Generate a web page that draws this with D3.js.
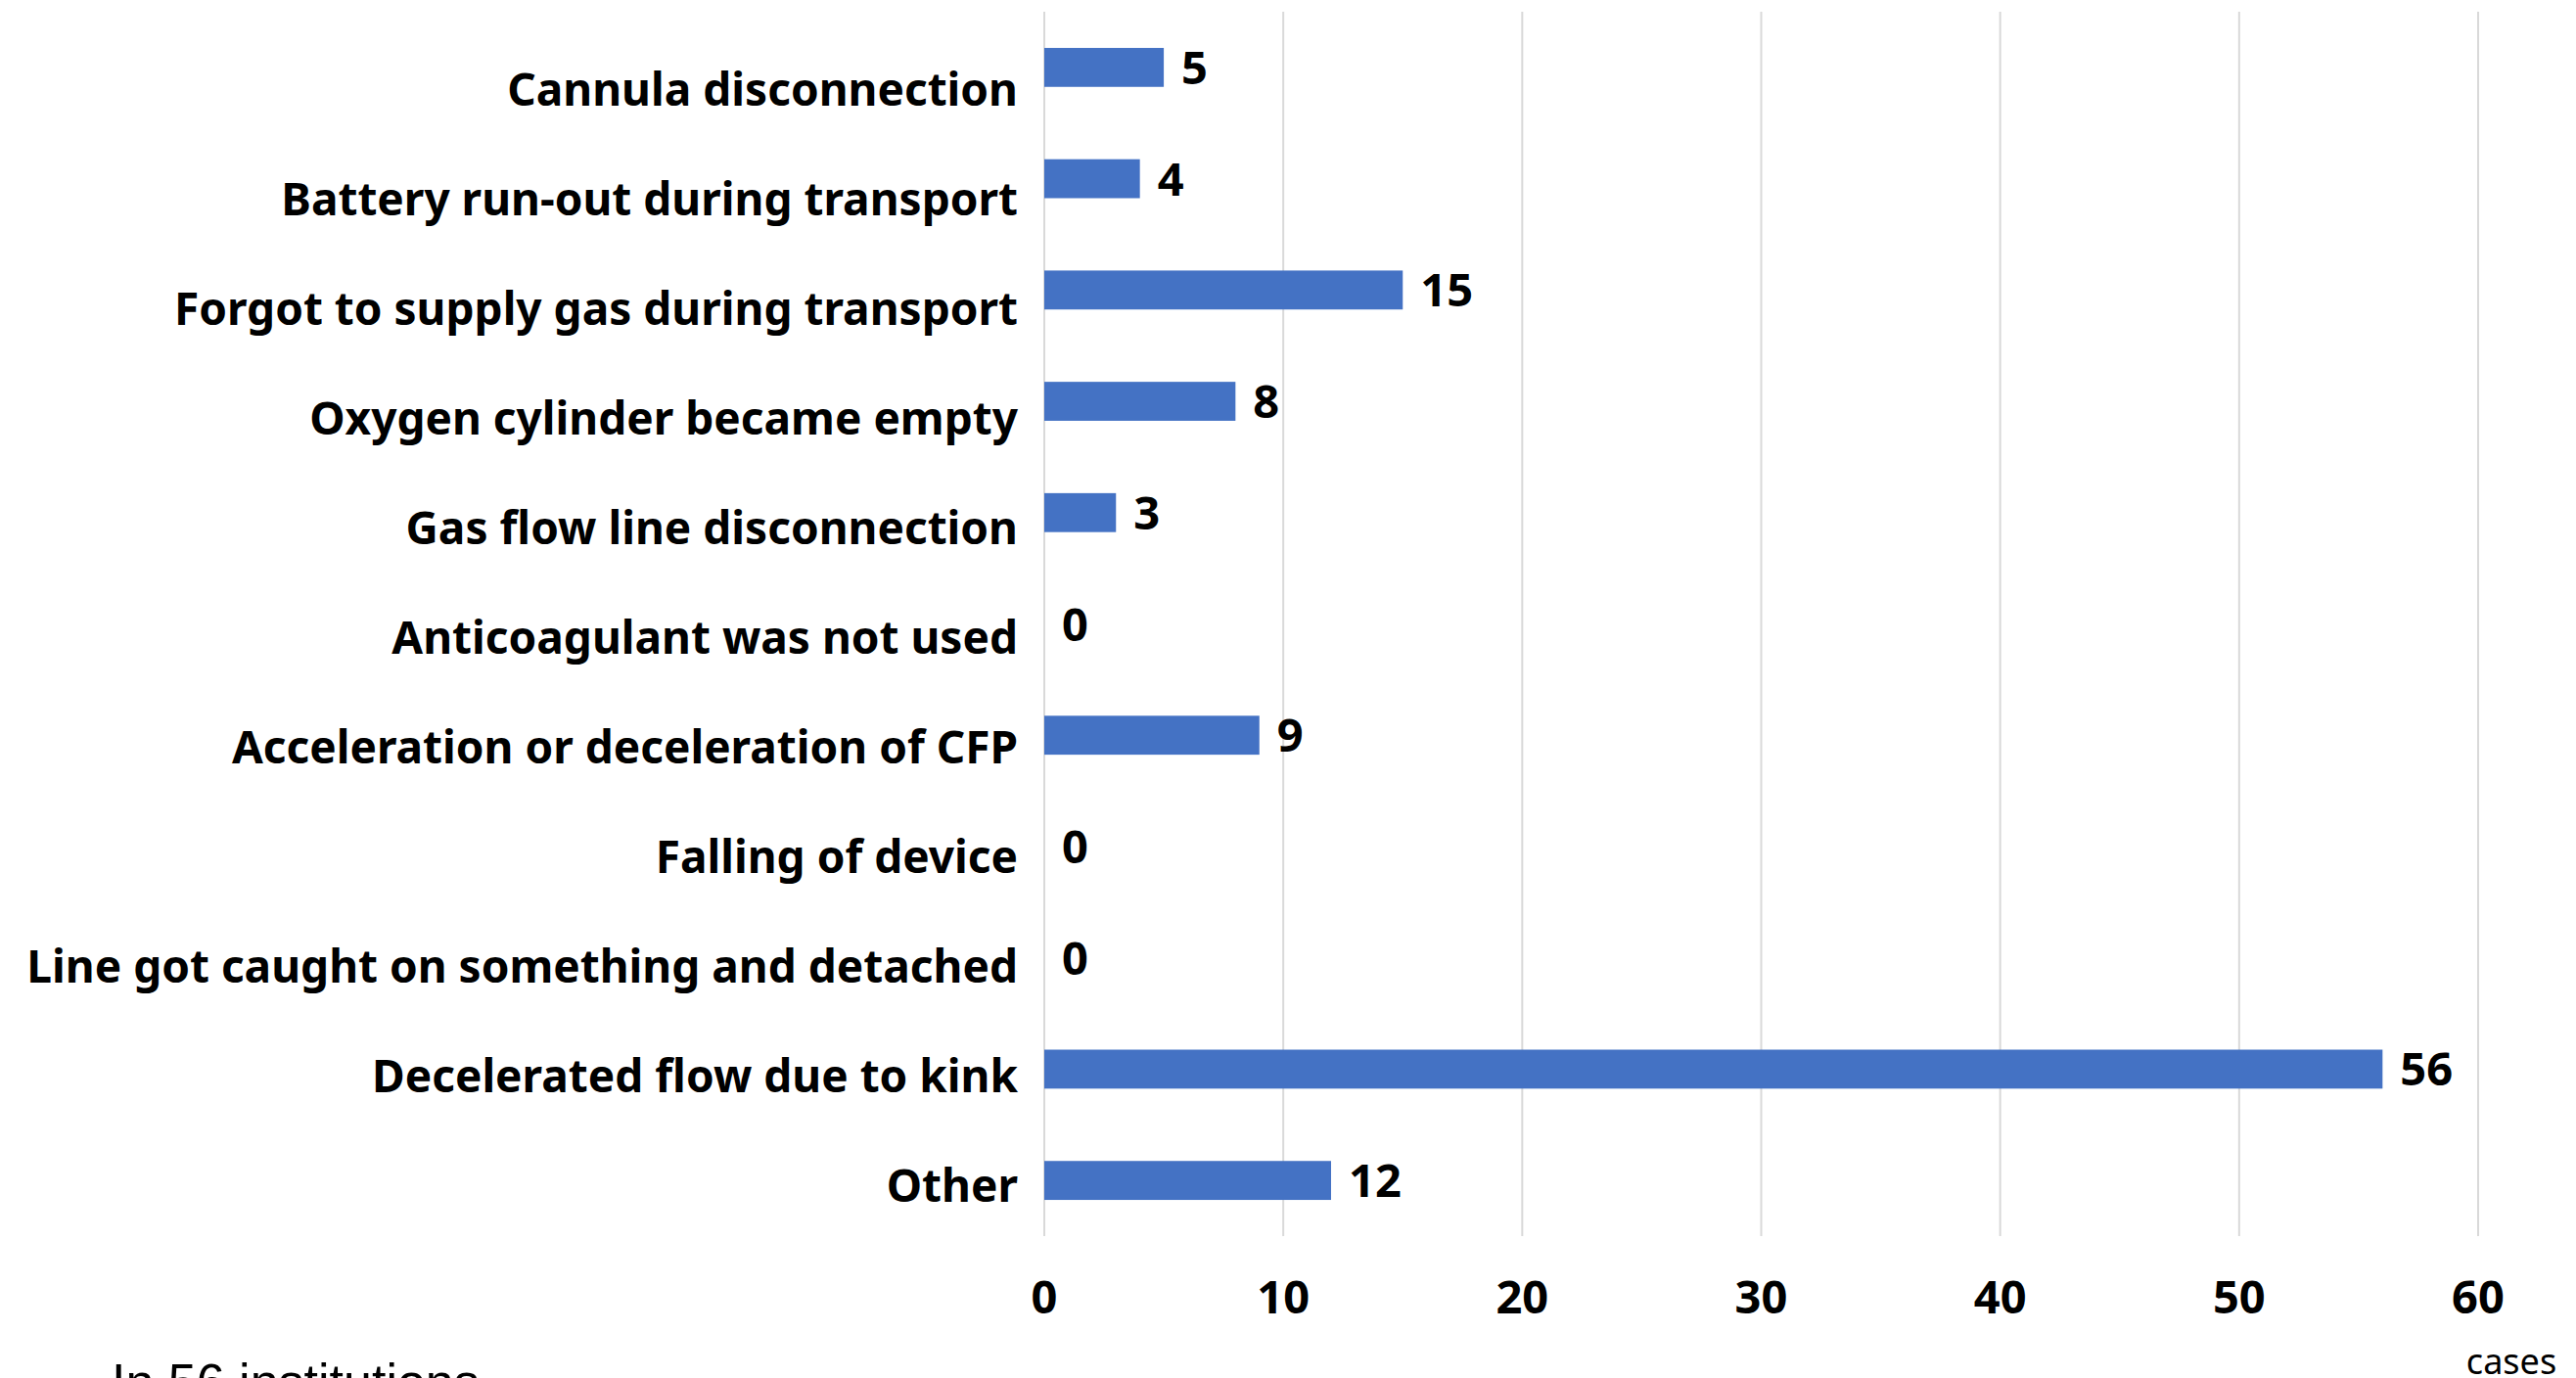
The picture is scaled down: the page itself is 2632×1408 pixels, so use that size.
<!DOCTYPE html>
<html>
<head>
<meta charset="utf-8">
<script src="https://cdn.jsdelivr.net/npm/d3@7"></script>
<style>
  html, body { margin: 0; padding: 0; background: #ffffff; }
  svg { display: block; }
</style>
</head>
<body>
<script>
const categories = [
  "Cannula disconnection",
  "Battery run-out during transport",
  "Forgot to supply gas during transport",
  "Oxygen cylinder became empty",
  "Gas flow line disconnection",
  "Anticoagulant was not used",
  "Acceleration or deceleration of CFP",
  "Falling of device",
  "Line got caught on something and detached",
  "Decelerated flow due to kink",
  "Other"
];
const values = [5, 4, 15, 8, 3, 0, 9, 0, 0, 56, 12];
const xTicks = [0, 10, 20, 30, 40, 50, 60];
const axisUnit = "cases";
const footnote = "In 56 institutions";

const W = 2632, H = 1408;
const svg = d3.select("body").append("svg").attr("width", W).attr("height", H);

const plotTop = 12, plotBottom = 1263;
const x = d3.scaleLinear().domain([0, 60]).range([1067, 2532]);
const y = d3.scaleBand().domain(categories).range([plotTop, plotBottom])
  .paddingInner(0.65).paddingOuter(0.325);
const yLabel = d3.scalePoint().domain(categories).range([108, 1228]);

const boldFont = "'Noto Sans', sans-serif";

// gridlines
svg.append("g").selectAll("line").data(xTicks).join("line")
  .attr("x1", d => x(d)).attr("x2", d => x(d))
  .attr("y1", plotTop).attr("y2", plotBottom)
  .attr("stroke", "#d9d9d9").attr("stroke-width", 2);

// bars
svg.append("g").selectAll("rect").data(values).join("rect")
  .attr("x", x(0))
  .attr("y", (d, i) => y(categories[i]))
  .attr("width", d => x(d) - x(0))
  .attr("height", y.bandwidth())
  .attr("fill", "#4472C4");

// value labels
svg.append("g").selectAll("text").data(values).join("text")
  .attr("x", d => x(d) + 18)
  .attr("y", (d, i) => y(categories[i]) + y.bandwidth() / 2 + 17)
  .attr("font-family", boldFont).attr("font-weight", "bold")
  .attr("font-size", 47).attr("fill", "#000")
  .text(d => d);

// category labels
svg.append("g").selectAll("text").data(categories).join("text")
  .attr("x", 1040)
  .attr("y", d => yLabel(d))
  .attr("text-anchor", "end")
  .attr("font-family", boldFont).attr("font-weight", "bold")
  .attr("font-size", 46).attr("fill", "#000")
  .text(d => d);

// x tick labels
svg.append("g").selectAll("text").data(xTicks).join("text")
  .attr("x", d => x(d))
  .attr("y", 1342)
  .attr("text-anchor", "middle")
  .attr("font-family", boldFont).attr("font-weight", "bold")
  .attr("font-size", 47).attr("fill", "#000")
  .text(d => d);

// unit label
svg.append("text")
  .attr("x", 2566).attr("y", 1404)
  .attr("text-anchor", "middle")
  .attr("font-family", "'Noto Sans', sans-serif")
  .attr("font-size", 36).attr("fill", "#000")
  .text(axisUnit);

// footnote (cut off at the bottom edge, as in the reference)
svg.append("text")
  .attr("x", 114).attr("y", 1430)
  .attr("font-family", "'Liberation Sans', Arial, sans-serif")
  .attr("font-size", 52).attr("fill", "#000")
  .text(footnote);
</script>
</body>
</html>
